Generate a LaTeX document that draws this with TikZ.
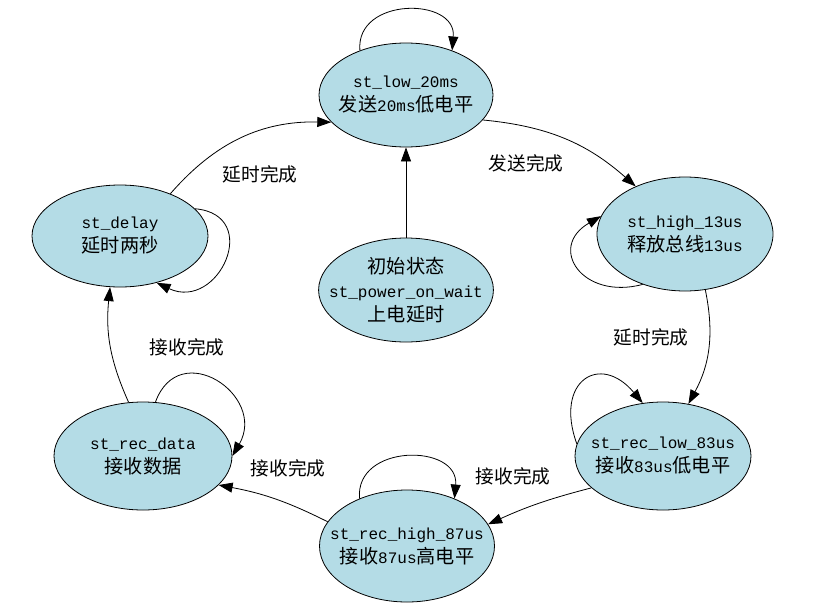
\documentclass[tikz,border=0pt]{standalone}
\usepackage{fontspec}
\setmainfont{Liberation Mono}
\newfontfamily\zhfont[Scale=1.2]{Noto Sans CJK SC}
\usetikzlibrary{arrows.meta,positioning,shapes.geometric}
\definecolor{stfill}{HTML}{B4DCE6}
\newcommand{\zh}[1]{{\zhfont #1}}
\tikzset{
  stnode/.style={ellipse,draw,line width=0.8pt,fill=stfill,align=center,inner sep=-15pt,
    minimum width=176pt,minimum height=104pt,font=\fontsize{16}{24}\selectfont},
  ar/.style={-{Triangle[length=14pt,width=10pt]},line width=0.8pt},
  lbl/.style={font=\fontsize{15.6}{20}\selectfont\zhfont},
}

\begin{document}
\begin{tikzpicture}[x=1pt,y=1pt]
  \useasboundingbox (0,0) rectangle (819,-608);
  % states
  \node[stnode, minimum width=174pt] (low) at (406,-95) {st\_low\_20ms\\\zh{发送}20ms\zh{低电平}};
  \node[stnode, minimum height=102pt] (delay) at (120,-236) {st\_delay\\\zh{延时两秒}};
  \node[stnode, minimum width=174pt] (power) at (406,-290) {\zh{初始状态}\\st\_power\_on\_wait\\\zh{上电延时}};
  \node[stnode, minimum height=114pt] (high) at (685,-234) {st\_high\_13us\\\zh{释放总线}13us};
  \node[stnode, minimum width=178pt, minimum height=108pt] (recdata) at (143,-456) {st\_rec\_data\\\zh{接收数据}};
  \node[stnode, minimum width=175pt, minimum height=112pt] (rechigh) at (407,-546) {st\_rec\_high\_87us\\\zh{接收}87us\zh{高电平}};
  \node[stnode, minimum height=108pt] (reclow) at (663,-456) {st\_rec\_low\_83us\\\zh{接收}83us\zh{低电平}};

  % transition labels
  \node[lbl] (l1) at (260,-174) {延时完成};
  \node[lbl] (l2) at (526,-163) {发送完成};
  \node[lbl] (l3) at (651,-337) {延时完成};
  \node[lbl] (l4) at (513,-476) {接收完成};
  \node[lbl] (l5) at (288,-468) {接收完成};
  \node[lbl] (l6) at (187,-347) {接收完成};

  % transitions
  \draw[ar] (power) -- (low);
  \draw[ar] (delay.40) to[bend left=25] (low.200);
  \draw[ar] (low.-18) to[bend left=18] (high.136);
  \draw[ar] (high.-70) to[bend left=20] (reclow.64);
  \draw[ar] (reclow.204) to[bend right=5] (rechigh.15);
  \draw[ar] (rechigh.163) to[bend right=8] (recdata.-21);
  \draw[ar] (recdata.105) to[bend left=15] (delay.259);

  % self loops
  \draw[ar] (low.136) to[out=95,in=85,looseness=1.5] (low.44);
  \draw[ar] (delay.20) to[out=-5,in=-25,looseness=2.1] (delay.-52);
  \draw[ar] (high.230) to[out=195,in=210,looseness=2] (high.168);
  \draw[ar] (recdata.77) to[out=70,in=60,looseness=1.9] (recdata.0);
  \draw[ar] (rechigh.135) to[out=95,in=85,looseness=1.5] (rechigh.45);
  \draw[ar] (reclow.172) to[out=110,in=130,looseness=2.2] (reclow.111);
\end{tikzpicture}
\end{document}
